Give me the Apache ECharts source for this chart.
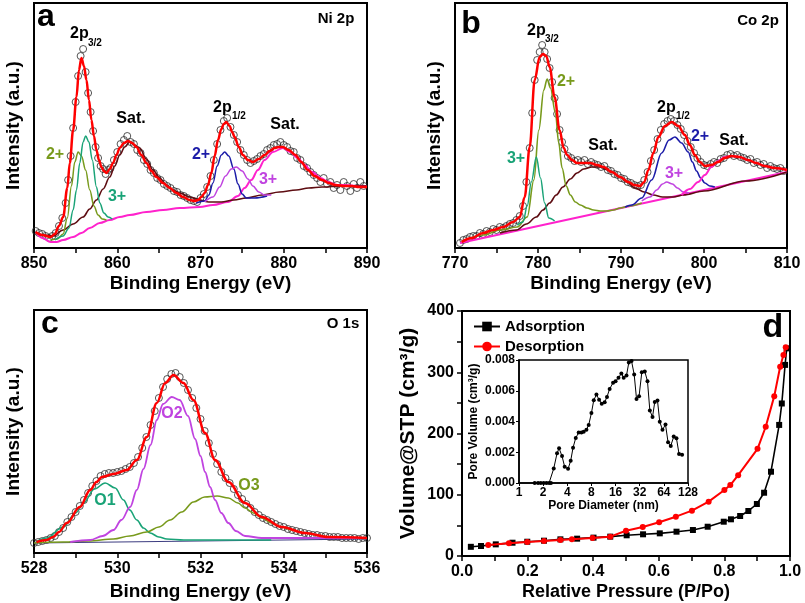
<!DOCTYPE html>
<html>
<head>
<meta charset="utf-8">
<script src="https://cdn.jsdelivr.net/npm/echarts@6/dist/echarts.min.js"></script>
<style>html,body{margin:0;padding:0;background:#fff}#c{width:805px;height:603px}</style>
</head>
<body>
<div id="c"></div>
<script>
// ---------- Panel a : Ni 2p ----------
const niData = [[850.2,17],[850.6,15],[851.0,14],[851.4,12],[851.8,10],[852.2,12],[852.6,15],[853.0,22],[853.4,30],[853.8,45],[854.1,68],[854.4,92],[854.7,120],[855.0,146],[855.3,172],[855.6,192],[855.9,199],[856.2,176],[856.5,155],[856.8,136],[857.1,117],[857.4,101],[857.7,90],[858.0,82],[858.3,79],[858.6,74],[858.9,78],[859.2,80],[859.6,88],[860.0,96],[860.4,104],[860.8,108],[861.2,112],[861.6,106],[862.0,104],[862.4,98],[862.8,95],[863.2,88],[863.6,84],[864.0,78],[864.4,75],[864.8,70],[865.2,68],[865.6,64],[866.0,62],[866.4,60],[866.8,57],[867.2,56],[867.6,53],[868.0,52],[868.4,50],[868.8,48],[869.2,47],[869.6,46],[870.0,50],[870.4,54],[870.8,61],[871.2,72],[871.6,88],[872.0,104],[872.4,118],[872.8,127],[873.2,130],[873.6,121],[874.0,113],[874.4,106],[874.8,98],[875.2,93],[875.6,88],[876.0,85],[876.4,87],[876.8,89],[877.2,92],[877.6,94],[878.0,98],[878.4,100],[878.8,103],[879.2,104],[879.6,106],[880.0,103],[880.4,101],[880.8,97],[881.2,96],[881.6,90],[882.0,88],[882.4,82],[882.8,80],[883.2,76],[883.6,73],[884.0,70],[884.4,66],[884.8,70],[885.2,64],[885.6,66],[886.0,60],[886.4,63],[886.8,58],[887.2,66],[887.6,62],[888.0,57],[888.4,64],[888.8,60],[889.2,66],[889.6,62]];
const niFit = [[850.2,16],[851,13],[852,11],[852.5,14],[853,22],[853.5,31],[854,60],[854.3,85],[854.7,118],[855.1,151],[855.4,178],[855.7,190],[856.0,182],[856.3,168],[856.6,148],[856.9,128],[857.2,112],[857.5,98],[857.8,88],[858.1,81],[858.4,77],[858.7,75],[859.1,79],[859.5,85],[859.9,93],[860.3,100],[860.8,105],[861.3,107],[861.8,105],[862.3,101],[862.9,93],[863.5,85],[864.1,77],[864.7,71],[865.5,65],[866.3,60],[867.1,55],[867.9,51],[868.7,48],[869.3,47],[869.7,48],[870.1,51],[870.5,55],[870.9,63],[871.3,75],[871.7,92],[872.1,108],[872.5,119],[872.8,124],[873.1,126],[873.5,122],[873.8,116],[874.1,111],[874.6,101],[875.1,93],[875.7,88],[876.3,86],[877.0,89],[877.7,93],[878.3,97],[878.9,100],[879.4,101],[879.9,101],[880.6,98],[881.4,93],[882.1,86],[882.9,78],[883.7,72],[884.6,68],[885.4,65],[886.2,63],[887.2,62],[888.2,62],[889,61],[890,61]];
const niBgSat2 = [[850.2,16],[851,10],[852,6],[852.7,6],[853.5,8],[854.7,11],[855.7,15],[856.7,20],[857.9,25],[859.1,28],[860.3,31],[861.5,33],[863.5,36],[865.5,38],[867.5,40],[869.9,41],[871.5,43],[873.3,46],[874.5,52],[875.3,60],[876.1,68],[876.9,78],[877.7,88],[878.7,96],[879.9,100],[880.8,96],[881.7,90],[882.5,83],[883.4,76],[884.4,70],[885.4,66],[886.4,63],[887.4,63],[888.7,62],[890,62]];
const niSat1 = [[850.2,16],[851,13],[852.3,12],[853.5,18],[854.7,24],[855.9,31],[856.7,39],[857.5,48],[858.3,59],[859.1,71],[859.7,82],[860.3,93],[860.9,101],[861.5,106],[862.1,103],[862.7,100],[863.5,89],[864.3,78],[865.1,70],[865.9,63],[866.7,58],[867.5,55],[868.7,51],[869.9,48],[871,46],[872.5,46],[874,48],[875.5,50],[877.4,53],[879.5,56],[881.5,58],[883,60],[884.6,61],[887,62],[890,62]];
const niP32two = [[852.0,8],[852.8,9],[853.5,14],[854.0,30],[854.5,62],[854.9,86],[855.3,96],[855.7,92],[856.2,78],[856.7,58],[857.2,42],[857.7,33],[858.2,29],[858.7,28]];
const niP32three = [[852.5,8],[853.5,12],[854.2,20],[854.7,38],[855.1,58],[855.5,85],[855.9,106],[856.2,112],[856.6,106],[857.0,88],[857.5,61],[857.9,45],[858.4,35],[858.9,31],[859.4,29]];
const niP12two = [[869.5,45],[870.5,47],[871.0,53],[871.5,65],[872.0,82],[872.5,93],[872.9,96],[873.4,92],[874.0,79],[874.5,64],[875.0,54],[875.5,50],[876.5,50],[878,52]];
const niP12three = [[870.5,46],[871.5,51],[872.3,61],[873.0,72],[873.7,79],[874.3,81],[875.0,77],[875.7,69],[876.3,62],[877.0,56],[877.7,53],[878.5,53]];

// ---------- Panel b : Co 2p ----------
const coData = [[770.6,5],[771.0,8],[771.4,9],[771.8,11],[772.2,12],[772.6,12],[773.0,15],[773.4,14],[773.8,17],[774.2,16],[774.6,19],[775.0,18],[775.4,21],[775.8,20],[776.2,22],[776.6,24],[777.0,25],[777.4,28],[777.8,32],[778.2,42],[778.6,66],[779.0,100],[779.3,135],[779.6,168],[779.9,188],[780.2,196],[780.5,203],[780.8,196],[781.1,189],[781.4,180],[781.7,166],[782.0,150],[782.3,134],[782.6,118],[782.9,106],[783.2,99],[783.6,92],[784.0,90],[784.4,87],[784.8,88],[785.2,86],[785.6,88],[786.0,84],[786.4,86],[786.8,84],[787.2,83],[787.6,81],[788.0,82],[788.4,78],[788.8,77],[789.2,74],[789.6,73],[790.0,70],[790.4,69],[790.8,66],[791.2,65],[791.6,63],[792.0,62],[792.4,63],[792.8,68],[793.2,76],[793.6,87],[794.0,98],[794.4,109],[794.8,118],[795.2,124],[795.6,127],[796.0,129],[796.4,127],[796.8,123],[797.2,119],[797.6,113],[798.0,107],[798.4,101],[798.8,95],[799.2,90],[799.6,86],[800.0,83],[800.4,82],[800.8,84],[801.2,86],[801.6,85],[802.0,89],[802.4,90],[802.8,93],[803.2,94],[803.6,92],[804.0,93],[804.4,91],[804.8,90],[805.2,88],[805.6,89],[806.0,85],[806.4,86],[806.8,83],[807.2,84],[807.6,80],[808.0,82],[808.4,80],[808.8,79],[809.2,80],[809.6,77]];
const coFit = [[770.8,6],[772,10],[773.4,15],[774.6,18],[775.8,21],[777,26],[777.8,31],[778.4,51],[779.0,101],[779.6,168],[780.2,191],[780.6,194],[781.0,192],[781.4,181],[782.0,151],[782.6,118],[783.1,100],[783.5,93],[784.1,88],[784.7,85],[785.5,85],[786.3,85],[787.1,83],[787.9,81],[788.9,76],[789.9,71],[790.9,66],[791.6,63],[792.3,62],[792.8,66],[793.3,78],[793.9,95],[794.5,111],[795.3,122],[796.1,126],[796.9,122],[797.7,113],[798.3,103],[798.9,93],[799.5,86],[800.1,82],[800.9,83],[801.7,86],[802.5,90],[803.3,92],[804.3,91],[805.3,88],[806.3,85],[807.3,82],[808.5,80],[810,78]];
const coBg = [[770.6,5],[810,76]];
const coSat1 = [[775.4,15],[777.4,18],[778.6,24],[779.8,31],[780.6,38],[781.4,45],[782.2,53],[783,61],[783.9,69],[784.7,75],[785.5,79],[786.5,81],[787.5,81],[788.7,77],[789.9,71],[790.7,66],[791.7,60],[792.8,56],[793.9,53],[795,51],[796.3,51],[797.5,53],[800,57],[805,67],[810,76]];
const coP32three = [[777.5,23],[778.2,26],[778.7,42],[779.2,66],[779.8,91],[780.3,70],[780.8,45],[781.3,30],[782,27]];
const coP32two = [[771,7],[773.4,13],[775.5,18],[777.5,21],[778.7,31],[779.5,68],[780.1,118],[780.7,158],[781.1,169],[781.5,160],[782.1,135],[782.5,105],[782.9,80],[783.4,62],[783.9,53],[784.5,46],[785.1,43],[785.9,40],[786.7,38],[787.5,37],[788.3,37],[789.1,38],[789.9,40],[791,42],[792.5,45]];
const coP12two = [[790.5,41],[791.3,43],[792.5,50],[793.7,68],[794.9,95],[795.8,108],[796.5,111],[797.3,105],[798.1,96],[798.6,86],[799.1,77],[799.6,70],[800.1,65],[800.7,62],[801.3,61]];
const coP12three = [[792.5,47],[793.5,51],[794.3,58],[795,64],[795.5,66],[796.2,64],[796.8,60],[797.5,56],[798.2,55]];
const coSat2 = [[797.3,53],[798.3,59],[799.3,66],[800.1,73],[800.9,81],[801.7,87],[802.5,91],[803.3,92],[804.3,91],[805.3,88],[806.3,85],[807.3,82],[808.5,80],[810,78]];

// ---------- Panel c : O 1s ----------
const oData = [[528.0,10],[528.1,11],[528.2,12],[528.3,13],[528.4,15],[528.5,17],[528.6,21],[528.7,25],[528.8,31],[528.9,36],[529.0,41],[529.1,47],[529.2,53],[529.3,60],[529.4,67],[529.5,72],[529.6,77],[529.7,79],[529.8,80],[529.9,80],[530.0,81],[530.1,82],[530.2,84],[530.3,86],[530.4,90],[530.5,96],[530.6,105],[530.7,116],[530.8,128],[530.9,142],[531.0,155],[531.1,166],[531.2,174],[531.3,179],[531.4,180],[531.5,176],[531.6,170],[531.7,163],[531.8,155],[531.9,145],[532.0,134],[532.1,122],[532.2,110],[532.3,99],[532.4,89],[532.5,81],[532.6,75],[532.7,70],[532.8,64],[532.9,58],[533.0,54],[533.1,49],[533.2,45],[533.3,41],[533.4,38],[533.5,35],[533.6,33],[533.7,31],[533.8,29],[533.9,27],[534.0,26],[534.1,24],[534.2,23],[534.3,22],[534.4,21],[534.5,20],[534.6,19],[534.7,18],[534.8,18],[534.9,17],[535.0,17],[535.1,16],[535.2,16],[535.3,16],[535.4,15],[535.5,15],[535.6,15],[535.7,15],[535.8,14],[535.9,15],[536.0,15]];
const oFit = [[528.06,11],[528.3,13],[528.46,16],[528.6,21],[528.79,30],[529.1,46],[529.35,63],[529.5,71],[529.63,76],[529.91,79],[530.23,83],[530.47,93],[530.71,116],[530.95,150],[531.15,170],[531.35,178],[531.59,170],[531.83,153],[532.11,120],[532.35,93],[532.67,71],[533.07,50],[533.47,36],[533.95,26],[534.51,20],[535.07,16],[536,15]];
const oBg = [[528,10],[536,14]];
const oO1 = [[528.05,11],[528.3,15],[528.7,26],[529.0,40],[529.19,50],[529.45,64],[529.71,70],[529.95,65],[530.15,53],[530.3,43],[530.47,33],[530.63,25],[530.79,20],[531.0,16],[531.19,14],[531.6,13],[532.5,13],[533.7,13]];
const oO2 = [[528.87,11],[529.35,13],[529.65,17],[529.91,23],[530.1,33],[530.31,46],[530.47,63],[530.63,84],[530.8,108],[530.95,133],[531.1,149],[531.31,156],[531.5,153],[531.7,137],[531.87,114],[532.0,97],[532.11,81],[532.23,66],[532.35,53],[532.5,40],[532.67,30],[532.85,22],[533.07,17],[533.47,15],[534.5,15],[536,15]];
const oO3 = [[528.0,10],[528.7,11],[529.3,12],[529.91,14],[530.3,17],[530.71,21],[531.0,26],[531.27,33],[531.55,41],[531.83,51],[532.1,56],[532.4,57],[532.67,55],[532.9,50],[533.07,45],[533.27,40],[533.47,35],[533.7,30],[533.95,26],[534.2,23],[534.51,20],[534.8,18],[535.07,16],[535.5,15],[536,15]];

// ---------- Panel d : N2 isotherm ----------
const adsP = [0.027,0.058,0.103,0.154,0.199,0.25,0.30,0.351,0.401,0.452,0.502,0.552,0.603,0.654,0.704,0.749,0.798,0.82,0.848,0.873,0.899,0.921,0.942,0.967,0.975,0.985,0.99];
const adsV = [15,16.3,19,21.7,23.3,25,27.2,28.3,30,31.6,33.8,35.4,37,39.7,42.4,47.8,56,59.9,65.3,73.5,84.9,103.3,137.6,214,249,312,339];
const desP = [0.08,0.143,0.199,0.25,0.30,0.335,0.398,0.452,0.50,0.551,0.601,0.652,0.701,0.752,0.80,0.818,0.842,0.901,0.926,0.952,0.97,0.98,0.987];
const desV = [18,20.7,22.9,24.5,26.1,27.2,29.4,31.6,41.3,47.3,55,64.2,74,88.7,107.8,115.9,132,175,211,261,309,328,341];

// ---------- Inset : pore size distribution ----------
const poreD = [1.57,1.73,1.87,2.03,2.2,2.37,2.5,2.71,2.98,3.16,3.44,3.71,4.09,4.41,4.72,5.1,5.55,6.0,6.41,6.93,7.4,8.0,8.55,9.24,9.97,10.76,11.7,12.5,13.5,14.9,16.0,17.4,18.9,20.2,21.9,23.4,25.3,27.3,29.2,31.4,34,37,40,42.8,46.2,49.3,53.3,56.9,61.5,67.1,72.2,78,85,91.9,99,108];
const poreV = [0,0,0,0,0,0,0,0.00094,0.00193,0.00226,0.00175,0.00105,0.00092,0.00144,0.0023,0.00293,0.00328,0.00328,0.00334,0.00346,0.00378,0.00455,0.00538,0.00575,0.00542,0.00516,0.00525,0.0056,0.00612,0.00652,0.00662,0.00684,0.00713,0.00684,0.007,0.00783,0.00793,0.00706,0.00547,0.00564,0.00721,0.00726,0.00662,0.00472,0.00429,0.00527,0.00536,0.00398,0.00346,0.0038,0.00265,0.00241,0.00302,0.00291,0.00188,0.00184];

// tick label lists
const xpsTicksA = [850,860,870,880,890];
const xpsTicksB = [770,780,790,800,810];
const xpsTicksC = [528,530,532,534,536];

const FONT = '"Liberation Sans", Arial, Helvetica, sans-serif';
const RED='#ff0000', OLIVE='#789a1c', TEAL='#19a377', NAVY='#1c1ca8', VIOLET='#c044e0', MAGENTA='#ff22cc', BROWN='#5e0d12';

const zip = (a,b)=>a.map((v,i)=>[v,b[i]]);

function fitLine(data, color, width, idx, z){
  return {type:'line', data, xAxisIndex:idx, yAxisIndex:idx, showSymbol:false, symbol:'none',
    smooth:0.35, smoothMonotone:'x', lineStyle:{color, width}, z:z||3, silent:true};
}
function scat(data, idx){
  return {type:'scatter', data, xAxisIndex:idx, yAxisIndex:idx, symbol:'circle', symbolSize:7,
    itemStyle:{color:'rgba(255,255,255,0)', borderColor:'#2a2a2a', borderWidth:1}, z:1, silent:true};
}
const axisLine = {show:true, onZero:false, lineStyle:{color:'#000', width:2}};
const tickStyle = {color:'#000', width:1.5};
const titleStyle = {color:'#000', fontSize:19, fontWeight:'bold', fontFamily:FONT};
function xpsX(idx, ticks, minorSplit, gap){
  const step = ticks[1]-ticks[0];
  return {gridIndex:idx, type:'value', min:ticks[0], max:ticks[ticks.length-1], interval:step,
    axisLine, axisTick:{show:true, inside:false, length:5, lineStyle:tickStyle},
    minorTick:{show:true, splitNumber:minorSplit, length:5, lineStyle:tickStyle},
    splitLine:{show:false}, minorSplitLine:{show:false},
    axisLabel:{show:true, margin:8, color:'#000', fontSize:16, fontWeight:'bold', fontFamily:FONT, showMinLabel:true, showMaxLabel:true},
    name:'Binding Energy (eV)', nameLocation:'middle', nameGap:gap, nameTextStyle:titleStyle};
}
function xpsY(idx, max){
  return {gridIndex:idx, type:'value', min:0, max, axisLine, axisTick:{show:false}, axisLabel:{show:false},
    splitLine:{show:false}, name:'Intensity (a.u.)', nameLocation:'middle', nameGap:11, nameTextStyle:titleStyle};
}
function T(text, x, y, size, color, align){
  return {type:'text', x, y, z:100, silent:true,
    style:{text, fill:color||'#000', font:'bold '+size+'px '+FONT, align:align||'center', verticalAlign:'middle'}};
}

const chart = echarts.init(document.getElementById('c'), null, {renderer:'canvas'});
const gridBase = {show:true, borderColor:'#000', borderWidth:2, backgroundColor:'rgba(0,0,0,0)'};
chart.setOption({
  animation:false,
  backgroundColor:'#fff',
  grid:[
    Object.assign({left:34, top:3, width:333, height:245}, gridBase),
    Object.assign({left:455, top:3, width:332, height:245}, gridBase),
    Object.assign({left:34, top:310, width:333, height:243}, gridBase),
    Object.assign({left:462, top:311, width:328, height:245}, gridBase),
    Object.assign({left:519, top:360, width:169, height:123}, gridBase, {borderWidth:1.5})
  ],
  xAxis:[
    xpsX(0, xpsTicksA, 2, 26),
    xpsX(1, xpsTicksB, 2, 26),
    xpsX(2, xpsTicksC, 2, 29),
    {gridIndex:3, type:'value', min:0, max:1, interval:0.2, axisLine,
      axisTick:{show:true, inside:false, length:5, lineStyle:tickStyle},
      minorTick:{show:true, splitNumber:2, length:5, lineStyle:tickStyle},
      splitLine:{show:false},
      axisLabel:{margin:8, color:'#000', fontSize:16, fontWeight:'bold', fontFamily:FONT, formatter:v=>v.toFixed(1), showMinLabel:true, showMaxLabel:true},
      name:'Relative Pressure (P/Po)', nameLocation:'middle', nameGap:27,
      nameTextStyle:{color:'#000', fontSize:18, fontWeight:'bold', fontFamily:FONT}},
    {gridIndex:4, type:'log', logBase:2, min:1, max:128, splitNumber:7,
      axisLine:{show:true, onZero:false, lineStyle:{color:'#000', width:1.5}},
      axisTick:{show:true, inside:false, length:3, lineStyle:{color:'#000', width:1}},
      splitLine:{show:false},
      axisLabel:{margin:4, color:'#000', fontSize:12, fontWeight:'bold', fontFamily:FONT, showMinLabel:true, showMaxLabel:true},
      name:'Pore Diameter (nm)', nameLocation:'middle', nameGap:17,
      nameTextStyle:{color:'#000', fontSize:12, fontWeight:'bold', fontFamily:FONT}}
  ],
  yAxis:[
    xpsY(0,245), xpsY(1,245), xpsY(2,243),
    {gridIndex:3, type:'value', min:0, max:400, interval:100, axisLine,
      axisTick:{show:true, inside:false, length:5, lineStyle:tickStyle},
      minorTick:{show:true, splitNumber:2, length:5, lineStyle:tickStyle},
      splitLine:{show:false},
      axisLabel:{margin:8, color:'#000', fontSize:16, fontWeight:'bold', fontFamily:FONT},
      name:'Volume@STP (cm\u00b3/g)', nameLocation:'middle', nameGap:43,
      nameTextStyle:{color:'#000', fontSize:21, fontWeight:'bold', fontFamily:FONT}},
    {gridIndex:4, type:'value', min:0, max:0.008, interval:0.002,
      axisLine:{show:true, onZero:false, lineStyle:{color:'#000', width:1.5}},
      axisTick:{show:true, inside:false, length:3, lineStyle:{color:'#000', width:1}},
      splitLine:{show:false},
      axisLabel:{margin:4, color:'#000', fontSize:12, fontWeight:'bold', fontFamily:FONT, formatter:v=>v.toFixed(3)},
      name:'Pore Volume (cm\u00b3/g)', nameLocation:'middle', nameGap:39,
      nameTextStyle:{color:'#000', fontSize:12, fontWeight:'bold', fontFamily:FONT}}
  ],
  legend:{data:['Adsorption','Desorption'], orient:'vertical', left:468, top:314, itemWidth:26, itemHeight:12,
    itemGap:5, textStyle:{color:'#000', fontSize:15, fontWeight:'bold', fontFamily:FONT}, selectedMode:false},
  series:[
    // a
    scat(niData,0),
    fitLine(niBgSat2, MAGENTA, 2, 0),
    fitLine(niSat1, BROWN, 1.6, 0),
    fitLine(niP32two, OLIVE, 1.5, 0),
    fitLine(niP32three, TEAL, 1.5, 0),
    fitLine(niP12two, NAVY, 1.5, 0),
    fitLine(niP12three, VIOLET, 1.5, 0),
    fitLine(niFit, RED, 2.5, 0, 5),
    // b
    scat(coData,1),
    fitLine(coBg, MAGENTA, 2, 1),
    fitLine(coSat1, BROWN, 1.6, 1),
    fitLine(coP32two, OLIVE, 1.6, 1),
    fitLine(coP32three, TEAL, 1.5, 1),
    fitLine(coP12two, NAVY, 1.6, 1),
    fitLine(coP12three, VIOLET, 1.5, 1),
    fitLine(coSat2, MAGENTA, 2, 1),
    fitLine(coFit, RED, 2.5, 1, 5),
    // c
    scat(oData,2),
    fitLine(oBg, '#3c3c80', 1.2, 2),
    fitLine(oO1, TEAL, 1.6, 2),
    fitLine(oO3, OLIVE, 1.6, 2),
    fitLine(oO2, VIOLET, 1.8, 2),
    fitLine(oFit, RED, 2.5, 2, 5),
    // d
    {name:'Adsorption', type:'line', xAxisIndex:3, yAxisIndex:3, data:zip(adsP, adsV), symbol:'rect', symbolSize:6,
      showAllSymbol:true, lineStyle:{color:'#000', width:1.6}, itemStyle:{color:'#000'}, z:3},
    {name:'Desorption', type:'line', xAxisIndex:3, yAxisIndex:3, data:zip(desP, desV), symbol:'circle', symbolSize:6,
      showAllSymbol:true, lineStyle:{color:'#ff0000', width:2}, itemStyle:{color:'#ff0000'}, z:4},
    // inset
    {type:'line', xAxisIndex:4, yAxisIndex:4, data:zip(poreD, poreV), symbol:'circle', symbolSize:4,
      showAllSymbol:true, lineStyle:{color:'#000', width:1}, itemStyle:{color:'#000'}, z:6}
  ],
  graphic:[
    T('a',46,17,32), T('Ni 2p',336,19,15),
    T('2p',70,34,16,'#000','left'), T('3/2',88,43,10,'#000','left'),
    T('Sat.',131,119,16), T('2+',55,155,16,OLIVE), T('3+',117,197,16,TEAL),
    T('2p',213,108,16,'#000','left'), T('1/2',232,116,10,'#000','left'),
    T('2+',201,155,16,NAVY), T('Sat.',285,125,16), T('3+',268,180,16,VIOLET),

    T('b',471,24,32), T('Co 2p',758,21,15),
    T('2p',527,31,16,'#000','left'), T('3/2',545,39,10,'#000','left'),
    T('2+',566,82,16,OLIVE), T('3+',516,159,16,TEAL), T('Sat.',603,146,16),
    T('2p',657,108,16,'#000','left'), T('1/2',676,116,10,'#000','left'),
    T('2+',700,137,16,NAVY), T('Sat.',734,141,16), T('3+',674,174,16,VIOLET),

    T('c',50,324,32), T('O 1s',343,324,15),
    T('O1',105,501,16,TEAL), T('O2',172,414,16,VIOLET), T('O3',249,486,16,OLIVE),

    T('d',773,328,34)
  ]
});
</script>
</body>
</html>
